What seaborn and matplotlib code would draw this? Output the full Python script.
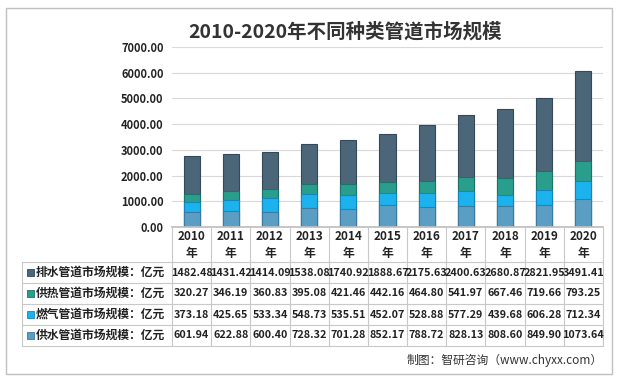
import numpy as np
import pandas as pd
import matplotlib
matplotlib.use("Agg")
import matplotlib.pyplot as plt
import seaborn as sns

years = ["2010", "2011", "2012", "2013", "2014", "2015", "2016", "2017", "2018", "2019", "2020"]
water_supply = [601.94, 622.88, 600.40, 728.32, 701.28, 852.17, 788.72, 828.13, 808.60, 849.90, 1073.64]
gas = [373.18, 425.65, 533.34, 548.73, 535.51, 452.07, 528.88, 577.29, 439.68, 606.28, 712.34]
heating = [320.27, 346.19, 360.83, 395.08, 421.46, 442.16, 464.80, 541.97, 667.46, 719.66, 793.25]
drainage = [1482.48, 1431.42, 1414.09, 1538.08, 1740.92, 1888.67, 2175.63, 2400.63, 2680.87, 2821.95, 3491.41]

series_names = ["供水管道市场规模：亿元", "燃气管道市场规模：亿元", "供热管道市场规模：亿元", "排水管道市场规模：亿元"]
face_colors = ["#5b9ec4", "#1cb2ee", "#2a9e8c", "#4b6678"]
edge_colors = ["#3d7aa0", "#1387bb", "#1c7367", "#33495a"]
yticks = np.arange(0, 7001, 1000)

sns.set_theme(style="white")
plt.rcParams["font.family"] = ["Noto Sans CJK SC", "DejaVu Sans"]

df = pd.DataFrame({"year": years})
stack = [water_supply, gas, heating, drainage]
cum = np.cumsum(np.array(stack), axis=0)

W, H = 620, 378
fig = plt.figure(figsize=(W / 100, H / 100), dpi=100)
fig.patch.set_facecolor("white")

# plot area in pixel coords
px0, px1, py_top, py_bot = 172, 603, 47, 227
ax = fig.add_axes([px0 / W, 1 - py_bot / H, (px1 - px0) / W, (py_bot - py_top) / H])

# draw stacks from the top down so lower segments cover upper ones
for i in range(3, -1, -1):
    df["v"] = cum[i]
    sns.barplot(data=df, x="year", y="v", ax=ax, color=face_colors[i], width=0.41,
                edgecolor=edge_colors[i], linewidth=0.8, saturation=1)

ax.set_xlim(-0.5, len(years) - 0.5)
ax.set_ylim(0, 7000)
ax.set_yticks(yticks)
ax.set_yticklabels([f"{t:.2f}" for t in yticks], fontsize=8, fontweight="bold", color="#222222")
ax.tick_params(axis="y", length=0, pad=6)
ax.set_xticks([])
ax.set_xlabel("")
ax.set_ylabel("")
ax.grid(axis="y", color="#d9d9d9", linewidth=0.8)
ax.set_axisbelow(True)
for s in ["top", "right", "left"]:
    ax.spines[s].set_visible(False)
ax.spines["bottom"].set_color("#bfbfbf")

fig.text(345 / W, 1 - 32 / H, "2010-2020年不同种类管道市场规模", ha="center", va="center",
         fontsize=14, fontweight="bold", color="#333333")

# overlay for data table, in pixels
ov = fig.add_axes([0, 0, 1, 1])
ov.set_xlim(0, W)
ov.set_ylim(H, 0)
ov.axis("off")
ov.patch.set_alpha(0)

line_c = "#c8c8c8"
ov.add_patch(plt.Rectangle((6, 8), 606, 366, fill=False, edgecolor="#c0c0c0", linewidth=1))

col_w = (px1 - px0) / len(years)
row_tops = [262, 283, 304, 325, 346]
tx0 = 22

# header row
for j in range(len(years) + 1):
    x = px0 + j * col_w
    ov.plot([x, x], [py_bot, row_tops[-1]], color=line_c, lw=0.8)
for j, yr in enumerate(years):
    cx = px0 + (j + 0.5) * col_w
    ov.text(cx, 237, yr, ha="center", va="center", fontsize=8.5, fontweight="bold", color="#222222")
    ov.text(cx, 254, "年", ha="center", va="center", fontsize=8.5, fontweight="bold", color="#222222")

for y in row_tops:
    ov.plot([tx0, px1], [y, y], color=line_c, lw=0.8)
ov.plot([tx0, tx0], [row_tops[0], row_tops[-1]], color=line_c, lw=0.8)

# table rows top to bottom: drainage, heating, gas, supply
for r, i in enumerate([3, 2, 1, 0]):
    cy = (row_tops[r] + row_tops[r + 1]) / 2
    ov.add_patch(plt.Rectangle((27, cy - 3.5), 7, 7, facecolor=face_colors[i],
                               edgecolor=edge_colors[i], linewidth=0.6))
    ov.text(36, cy, series_names[i], ha="left", va="center", fontsize=8.5,
            fontweight="bold", color="#222222")
    for j, v in enumerate(stack[i]):
        cx = px0 + (j + 0.5) * col_w
        ov.text(cx, cy, f"{v:.2f}", ha="center", va="center", fontsize=7.8,
                fontweight="bold", color="#222222")

fig.text(603 / W, 1 - 360 / H, "制图：智研咨询（www.chyxx.com）", ha="right", va="center",
         fontsize=8.5, color="#333333")

fig.savefig("out.png", dpi=100, facecolor="white")
